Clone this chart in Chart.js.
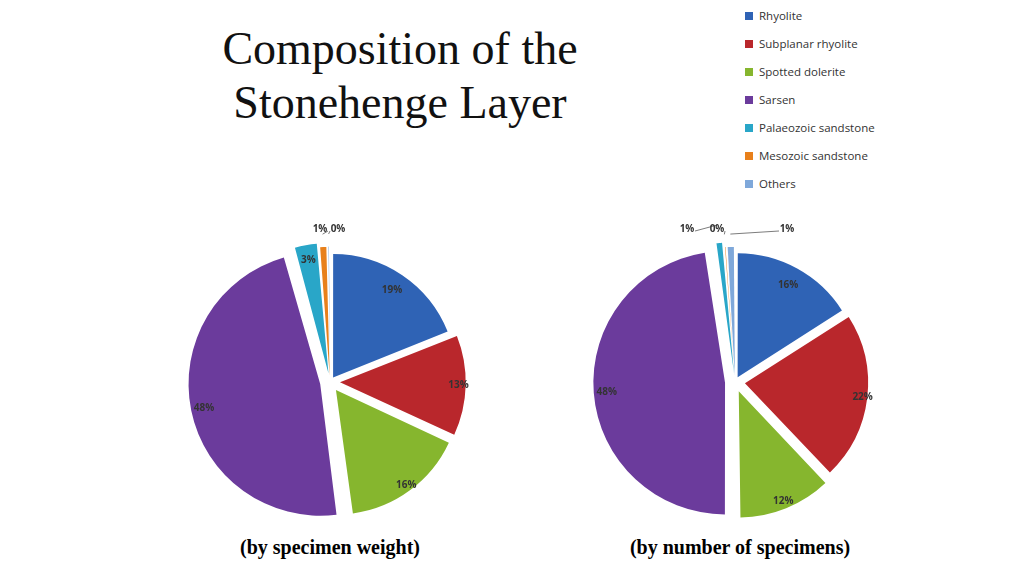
<!DOCTYPE html>
<html><head><meta charset="utf-8">
<script src="https://cdn.jsdelivr.net/npm/chart.js@4"></script>
<style>
body{margin:0;width:1024px;height:576px;background:#fff;position:relative;overflow:hidden;font-family:"Liberation Serif",serif}
#title{position:absolute;left:170px;top:22px;width:460px;text-align:center;font-size:46px;line-height:54px;color:#111}
.cap{position:absolute;top:536px;font-weight:bold;font-size:20px;width:340px;text-align:center}
#legend{position:absolute;left:745px;top:8px;font-family:"Open Sans",sans-serif;font-size:11.5px;color:#333}
#legend div{height:28px;display:flex;align-items:flex-start}
#legend span.sw{display:inline-block;width:8px;height:8px;margin:4px 6px 0 0}
canvas{position:absolute}
</style></head><body>
<div id="title">Composition of the<br>Stonehenge Layer</div>
<div id="legend"></div>
<div style="position:absolute;left:150px;top:205px;width:360px;height:330px"><canvas id="c1"></canvas></div>
<div style="position:absolute;left:555px;top:205px;width:360px;height:330px"><canvas id="c2"></canvas></div>
<div class="cap" style="left:160px">(by specimen weight)</div>
<div class="cap" style="left:570px">(by number of specimens)</div>
<script>
const categories=["Rhyolite","Subplanar rhyolite","Spotted dolerite","Sarsen","Palaeozoic sandstone","Mesozoic sandstone","Others"];
const weightValues=[19,13,16,48,3,1,0.3];
const weightLabels=["19%","13%","16%","48%","3%","1%","0%"];
const countValues=[16,22,12,48,1,0.3,1];
const countLabels=["16%","22%","12%","48%","1%","0%","1%"];
const colors=["#2f63b5","#b9272c","#86b62e","#6b3b9c","#29a6c8","#e8801b","#7fa8da"];
const lg=document.getElementById('legend');
categories.forEach((c,i)=>{lg.innerHTML+=`<div><span class="sw" style="background:${colors[i]}"></span>${c}</div>`;});
const labelPlugin={id:'lbl',afterDatasetsDraw(chart){
 const ctx=chart.ctx;const o=chart.options.plugins.lbl;const labels=o.labels;
 const meta=chart.getDatasetMeta(0);
 ctx.save();ctx.font='bold 10px "Open Sans",sans-serif';ctx.fillStyle='#333';ctx.strokeStyle='#444';ctx.lineWidth=0.7;ctx.textAlign='center';ctx.textBaseline='middle';
 let k=0;
 meta.data.forEach((a,i)=>{
  const mid=(a.startAngle+a.endAngle)/2;const v=chart.data.datasets[0].data[i];
  const off=chart.data.datasets[0].offset[i];
  const cx=a.x+Math.cos(mid)*off,cy=a.y+Math.sin(mid)*off;
  if(v>=3){const r=a.outerRadius*0.72;ctx.fillText(labels[i],cx+Math.cos(mid)*r,cy+Math.sin(mid)*r);}
  else{const ex=cx+Math.cos(mid)*a.outerRadius,ey=cy+Math.sin(mid)*a.outerRadius;
   const lx=a.x+o.dx[k],ly=a.y-a.outerRadius-o.dy;
   ctx.beginPath();ctx.moveTo(ex,ey);ctx.lineTo(lx+(o.dx[k]<0?8:-8),ly+2);ctx.stroke();
   ctx.fillText(labels[i],lx,ly);k++;}
 });ctx.restore();}};
function mk(id,data,labels,dx){
 new Chart(document.getElementById(id),{type:'pie',data:{labels:categories,datasets:[{data:data,backgroundColor:colors,borderColor:'#fff',borderWidth:0,offset:[22,40,40,40,35,25,25]}]},
 options:{responsive:true,maintainAspectRatio:false,animation:false,layout:{padding:{top:34,bottom:10,left:15,right:15}},
 plugins:{legend:{display:false},tooltip:{enabled:false},lbl:{labels:labels,dx:dx,dy:30}}},plugins:[labelPlugin]});
}
mk('c1',weightValues,weightLabels,[-10,8,25]);
mk('c2',countValues,countLabels,[-48,-18,52]);
</script></body></html>
